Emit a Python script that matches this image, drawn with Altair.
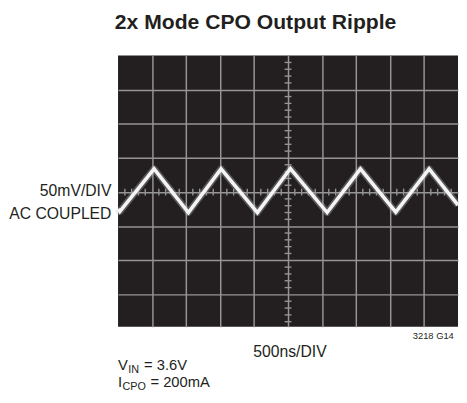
import altair as alt
import pandas as pd

# ---- data (in scope divisions) ----
t_div = [0.0, 0.05, 1.06, 2.07, 3.03, 4.10, 5.07, 6.15, 7.13, 8.17, 9.15, 10.0]
v_div = [-0.50, -0.57, 0.68, -0.60, 0.68, -0.60, 0.69, -0.60, 0.68, -0.59, 0.68, -0.38]

x_grid = [1, 2, 3, 4, 5, 6, 7, 8, 9]
y_grid = [-3, -2, -1, 0, 1, 2, 3]
minor_x = [i * 0.2 for i in range(1, 50) if i % 5 != 0]
minor_y = [i * 0.2 for i in range(-19, 20) if i % 5 != 0]

title_text = "2x Mode CPO Output Ripple"
ylab1 = "50mV/DIV"
ylab2 = "AC COUPLED"
xlab = "500ns/DIV"
fig_id = "3218 G14"

FONT = "Liberation Sans"
W, H = 346, 276
GRID = "#959595"

wave = pd.DataFrame({"t": t_div, "v": v_div})

xs = alt.Scale(domain=[0, 10], nice=False, zero=False)
ys = alt.Scale(domain=[-3.95, 4], nice=False, zero=False)

x_axis = alt.Axis(values=x_grid, grid=True, labels=False, ticks=False, domain=False, title=None,
                  gridColor=GRID, gridWidth=1.5)
y_axis = alt.Axis(values=y_grid, grid=True, labels=False, ticks=False, domain=False, title=None,
                  gridColor=GRID, gridWidth=1.5)

glow = alt.Chart(wave).mark_line(color="#bdbdbd", strokeWidth=7, opacity=0.35,
                                 strokeJoin="round").encode(
    x=alt.X("t:Q", scale=xs, axis=x_axis),
    y=alt.Y("v:Q", scale=ys, axis=y_axis),
)
line = alt.Chart(wave).mark_line(color="#f4f4f4", strokeWidth=3.6, strokeJoin="miter").encode(
    x=alt.X("t:Q", scale=xs),
    y=alt.Y("v:Q", scale=ys),
)

mx = pd.DataFrame({"t": minor_x})
ticks_h = alt.Chart(mx).mark_rule(color=GRID, strokeWidth=1.4).transform_calculate(
    a="-0.1", b="0.1"
).encode(
    x=alt.X("t:Q", scale=xs),
    y=alt.Y("a:Q", scale=ys),
    y2="b:Q",
)
my = pd.DataFrame({"v": minor_y})
ticks_v = alt.Chart(my).mark_rule(color=GRID, strokeWidth=1.4).transform_calculate(
    a="4.9", b="5.1"
).encode(
    y=alt.Y("v:Q", scale=ys),
    x=alt.X("a:Q", scale=xs),
    x2="b:Q",
)


def label(text, x, y, size, align="left", weight="normal"):
    return alt.Chart(pd.DataFrame({"label": [text]})).mark_text(
        font=FONT, fontSize=size, fontWeight=weight, align=align,
        baseline="alphabetic", color="#231f20"
    ).encode(x=alt.value(x), y=alt.value(y), text="label:N")


texts = [
    label(title_text, 140, -27, 21.5, align="center", weight="bold"),
    label(ylab1, -6.7, 143, 16, align="right"),
    label(ylab2, -6.7, 166, 16, align="right"),
    label(xlab, 175, 307, 16, align="center"),
    label(fig_id, 341.7, 288.7, 9.5, align="right"),
    label("V", 0, 320, 15),
    label("IN", 10.5, 323, 11),
    label("= 3.6V", 26.5, 320, 15),
    label("I", 0, 337, 15),
    label("CPO", 4.5, 340, 11),
    label("= 200mA", 33, 337, 15),
]

chart = alt.layer(glow, ticks_h, ticks_v, line, *texts).properties(
    width=W, height=H,
    autosize=alt.AutoSizeParams(type="none"),
    padding={"left": 112, "top": 45, "right": 1, "bottom": 70},
    background="white",
).configure_view(fill="#231f20", stroke=None)

chart.save("out.html", embed_options={"renderer": "svg", "actions": False})
